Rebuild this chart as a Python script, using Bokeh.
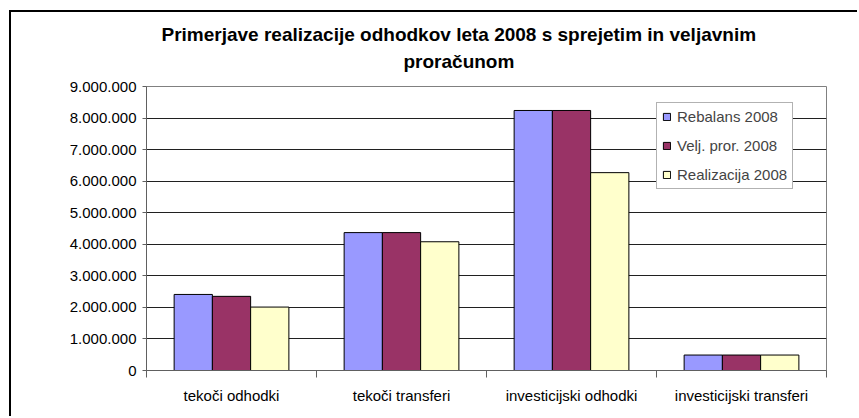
import numpy as np
from bokeh.plotting import figure
from bokeh.models import (ColumnDataSource, FixedTicker, Legend, LegendItem,
                          CustomJSTickFormatter, Range1d, Title)
from bokeh.transform import dodge
from bokeh.embed import file_html
from bokeh.resources import INLINE

categories = ["tekoči odhodki", "tekoči transferi", "investicijski odhodki", "investicijski transferi"]
series_names = ["Rebalans 2008", "Velj. pror. 2008", "Realizacija 2008"]
rebalans = [2410000, 4370000, 8240000, 490000]
veljavni = [2350000, 4370000, 8240000, 490000]
realizacija = [2010000, 4080000, 6270000, 490000]
colors = ["#9999FF", "#993366", "#FFFFCC"]
y_ticks = [0, 1000000, 2000000, 3000000, 4000000, 5000000, 6000000, 7000000, 8000000, 9000000]
title_lines = ["Primerjave realizacije odhodkov leta 2008 s sprejetim in veljavnim", "proračunom"]

xc = np.arange(len(categories)) + 0.5
src = ColumnDataSource(dict(x=xc, r=rebalans, v=veljavni, z=realizacija))

FONT = "Liberation Sans"
OX, OY = 11, 12  # canvas offset created by the outer chart border

p = figure(width=859 - OX, height=418 - OY, output_backend="svg", toolbar_location=None,
           x_range=Range1d(0, len(categories)), y_range=Range1d(0, y_ticks[-1]),
           min_border_left=146 - OX, min_border_right=33, min_border_top=86 - OY, min_border_bottom=48)
p.styles = {"margin-left": "9px", "margin-top": "10px",
            "border-left": "2px solid #000000", "border-top": "2px solid #000000"}
p.outline_line_color = "#808080"
p.outline_line_width = 1

bw = 0.225
renderers = []
for col, off, c in zip(["r", "v", "z"], [-bw, 0, bw], colors):
    r = p.vbar(x=dodge("x", off, range=p.x_range), top=col, width=bw, bottom=0, source=src,
               fill_color=c, line_color="#000000", line_width=1)
    renderers.append(r)

# axes
xa = p.xaxis[0]
xa.ticker = FixedTicker(ticks=list(xc), minor_ticks=list(range(len(categories) + 1)))
xa.major_label_overrides = {float(k): v for k, v in zip(xc, categories)}
xa.major_tick_line_color = None
xa.minor_tick_out = 7
xa.minor_tick_in = 0
xa.minor_tick_line_color = "#606060"
xa.axis_line_color = "#606060"
xa.major_label_standoff = 9
xa.major_label_text_font = FONT
xa.major_label_text_font_size = "15px"
xa.major_label_text_color = "#000000"

ya = p.yaxis[0]
ya.ticker = FixedTicker(ticks=y_ticks)
ya.formatter = CustomJSTickFormatter(code="return Math.round(tick).toString().replace(/\\B(?=(\\d{3})+(?!\\d))/g, '.');")
ya.major_tick_out = 4
ya.major_tick_in = 0
ya.minor_tick_line_color = None
ya.major_tick_line_color = "#606060"
ya.axis_line_color = "#606060"
ya.major_label_standoff = 6
ya.major_label_text_font = FONT
ya.major_label_text_font_size = "15px"
ya.major_label_text_color = "#000000"

p.xgrid.grid_line_color = None
p.ygrid.grid_line_color = "#202020"
p.ygrid.grid_line_width = 1

# legend
items = [LegendItem(label=n, renderers=[r]) for n, r in zip(series_names, renderers)]
legend = Legend(items=items, location=(510, 181), orientation="vertical",
                label_text_font=FONT, label_text_font_size="15px",
                glyph_width=9, glyph_height=9, label_height=10, spacing=12, padding=5,
                label_standoff=6, margin=0,
                border_line_color="#666666", border_line_width=1,
                background_fill_color="#ffffff", background_fill_alpha=1)
p.add_layout(legend)

# title: spacer nearest to the frame, then the two centred lines
p.add_layout(Title(text=" ", text_font_size="1px", standoff=10), "above")
p.add_layout(Title(text=title_lines[1], align="left", offset=257, standoff=4, text_font=FONT,
                   text_font_style="bold", text_font_size="19px", text_color="#000000"), "above")
p.add_layout(Title(text=title_lines[0], align="left", offset=15, standoff=4, text_font=FONT,
                   text_font_style="bold", text_font_size="19px", text_color="#000000"), "above")

open("out.html", "w").write(file_html(p, INLINE))
